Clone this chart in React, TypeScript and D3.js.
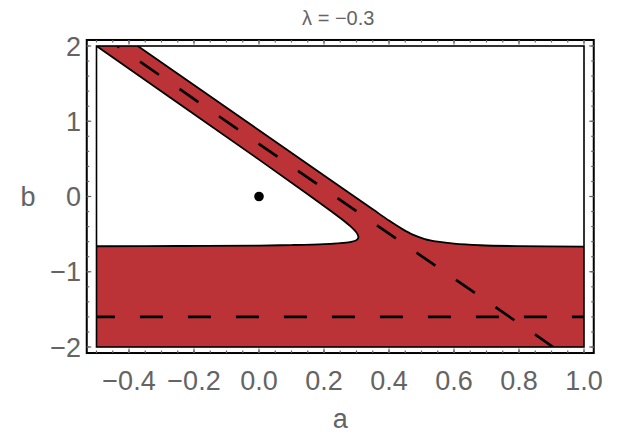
import React from "react";
import * as d3 from "d3";

const title = "λ = −0.3";
const xLabel = "a";
const yLabel = "b";
const xDomain: [number, number] = [-0.5, 1.0];
const yDomain: [number, number] = [-2, 2];
const xMajor = [-0.4, -0.2, 0, 0.2, 0.4, 0.6, 0.8, 1.0];
const xTickLabels = ["−0.4", "−0.2", "0.0", "0.2", "0.4", "0.6", "0.8", "1.0"];
const yMajor = [-2, -1, 0, 1, 2];
const yTickLabels = ["−2", "−1", "0", "1", "2"];

// boundary of the upper-right white region (a, b)
const upperBoundary: [number, number][] = [
  [-0.373, 2.0], [0.0, 0.88], [0.25, 0.13], [0.35, -0.17], [0.4, -0.32],
  [0.44, -0.43], [0.475, -0.51], [0.51, -0.565], [0.55, -0.6], [0.6, -0.627],
  [0.68, -0.648], [0.8, -0.66], [1.0, -0.667],
];
// boundary of the left white region (a, b)
const lowerBoundary: [number, number][] = [
  [-0.5, 2.0], [0.0, 0.49], [0.15, 0.03], [0.22, -0.19], [0.26, -0.32],
  [0.285, -0.41], [0.3, -0.48], [0.306, -0.54], [0.3, -0.58], [0.28, -0.605],
  [0.24, -0.622], [0.2, -0.633], [0.1, -0.645], [0.0, -0.652], [-0.25, -0.658],
  [-0.5, -0.661],
];
const dashDiagonal: [number, number][] = [[-0.436, 2], [0.905, -2]];
const dashHorizontal: [number, number][] = [[-0.5, -1.6], [1.0, -1.6]];
const points: [number, number][] = [[0, 0]];

const W = 625, H = 440;
const RED = "#bb3336";
const GRAY = "#646464";
const FONT = "'Liberation Sans', Arial, sans-serif";

export default function App() {
  const x = d3.scaleLinear().domain(xDomain).range([96.5, 584]);
  const y = d3.scaleLinear().domain(yDomain).range([347, 46]);
  const padX = (xDomain[1] - xDomain[0]) * 0.02;
  const padY = (yDomain[1] - yDomain[0]) * 0.02;
  const fx0 = x(xDomain[0] - padX), fx1 = x(xDomain[1] + padX);
  const fy0 = y(yDomain[1] + padY), fy1 = y(yDomain[0] - padY);

  const curve = d3
    .line<[number, number]>()
    .x((d) => x(d[0]))
    .y((d) => y(d[1]))
    .curve(d3.curveCatmullRom.alpha(0.5));
  const straight = d3
    .line<[number, number]>()
    .x((d) => x(d[0]))
    .y((d) => y(d[1]));

  const upperPath = curve(upperBoundary) as string;
  const lowerPath = curve(lowerBoundary) as string;
  const upperFill = upperPath + `L${x(xDomain[1])},${y(yDomain[1])}Z`;
  const lowerFill = lowerPath + "Z";

  const xMinor = x.ticks(30);
  const yMinor = y.ticks(20);
  const majorLen = 4.5, minorLen = 2.5;

  return (
    <svg
      width={W}
      height={H}
      style={{ position: "absolute", left: 0, top: 0, background: "#fff" }}
      fontFamily={FONT}
    >
      <defs>
        <clipPath id="plotClip">
          <rect x={x(xDomain[0])} y={y(yDomain[1])} width={x(xDomain[1]) - x(xDomain[0])} height={y(yDomain[0]) - y(yDomain[1])} />
        </clipPath>
      </defs>
      <rect x={0} y={0} width={W} height={H} fill="#fff" />
      <g clipPath="url(#plotClip)">
        <rect x={x(xDomain[0])} y={y(yDomain[1])} width={x(xDomain[1]) - x(xDomain[0])} height={y(yDomain[0]) - y(yDomain[1])} fill={RED} />
        <path d={upperFill} fill="#fff" />
        <path d={lowerFill} fill="#fff" />
        <path d={upperPath} fill="none" stroke="#000" strokeWidth={1.8} />
        <path d={lowerPath} fill="none" stroke="#000" strokeWidth={1.8} />
        <path d={straight(dashHorizontal) as string} fill="none" stroke="#000" strokeWidth={2.7} strokeDasharray="23,25" strokeDashoffset={4.6} />
        <path d={straight(dashDiagonal) as string} fill="none" stroke="#000" strokeWidth={2.7} strokeDasharray="23,25" strokeDashoffset={20.4} />
      </g>
      <rect x={x(xDomain[0])} y={y(yDomain[1])} width={x(xDomain[1]) - x(xDomain[0])} height={y(yDomain[0]) - y(yDomain[1])} fill="none" stroke="#000" strokeWidth={1.6} />
      {points.map((p, i) => (
        <circle key={i} cx={x(p[0])} cy={y(p[1])} r={4.8} fill="#000" />
      ))}
      {/* outer frame */}
      <rect x={fx0} y={fy0} width={fx1 - fx0} height={fy1 - fy0} fill="none" stroke="#000" strokeWidth={2} />
      {/* ticks */}
      <g stroke={GRAY} strokeWidth={1.2}>
        {xMinor.map((t, i) => (
          <g key={"xm" + i}>
            <line x1={x(t)} x2={x(t)} y1={fy1} y2={fy1 - minorLen} />
            <line x1={x(t)} x2={x(t)} y1={fy0} y2={fy0 + minorLen} />
          </g>
        ))}
        {xMajor.map((t, i) => (
          <g key={"xM" + i}>
            <line x1={x(t)} x2={x(t)} y1={fy1} y2={fy1 - majorLen} />
            <line x1={x(t)} x2={x(t)} y1={fy0} y2={fy0 + majorLen} />
          </g>
        ))}
        {yMinor.map((t, i) => (
          <g key={"ym" + i}>
            <line x1={fx0} x2={fx0 + minorLen} y1={y(t)} y2={y(t)} />
            <line x1={fx1} x2={fx1 - minorLen} y1={y(t)} y2={y(t)} />
          </g>
        ))}
        {yMajor.map((t, i) => (
          <g key={"yM" + i}>
            <line x1={fx0} x2={fx0 + majorLen} y1={y(t)} y2={y(t)} />
            <line x1={fx1} x2={fx1 - majorLen} y1={y(t)} y2={y(t)} />
          </g>
        ))}
      </g>
      {/* tick labels */}
      <g fill={GRAY} fontSize={27}>
        {xMajor.map((t, i) => (
          <text key={"xl" + i} x={x(t)} y={390} textAnchor="middle">
            {xTickLabels[i]}
          </text>
        ))}
        {yMajor.map((t, i) => (
          <text key={"yl" + i} x={81} y={y(t)} dy="0.36em" textAnchor="end">
            {yTickLabels[i]}
          </text>
        ))}
        <text x={(fx0 + fx1) / 2} y={428} textAnchor="middle">{xLabel}</text>
        <text x={28} y={y(0)} dy="0.36em" textAnchor="middle">{yLabel}</text>
      </g>
      <text x={(fx0 + fx1) / 2 - 2} y={25} textAnchor="middle" fill={GRAY} fontSize={20}>
        {title}
      </text>
    </svg>
  );
}
